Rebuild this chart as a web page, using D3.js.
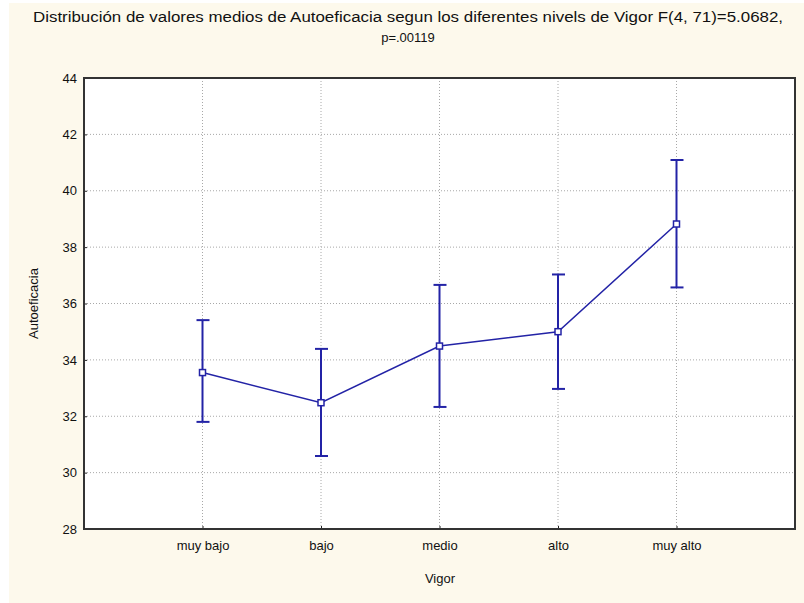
<!DOCTYPE html>
<html>
<head>
<meta charset="utf-8">
<script src="https://cdn.jsdelivr.net/npm/d3@7"></script>
<style>
  body { margin: 0; background: #ffffff; }
  text { font-family: "Liberation Sans", Arial, sans-serif; fill: #111; }
</style>
</head>
<body>
<div id="chart"></div>
<script>
// values
const categories = ["muy bajo", "bajo", "medio", "alto", "muy alto"];
const means = [33.55, 32.48, 34.49, 35.0, 38.82];
const upper = [35.41, 34.39, 36.66, 37.03, 41.09];
const lower = [31.8, 30.59, 32.33, 32.97, 36.57];
const yTicks = [28, 30, 32, 34, 36, 38, 40, 42, 44];

const titleLine1 = "Distribución de valores medios de  Autoeficacia segun los diferentes nivels de Vigor F(4, 71)=5.0682,";
const titleLine2 = "p=.00119";
const xLabel = "Vigor";
const yLabel = "Autoeficacia";

const pageWidth = 804;
const pageHeight = 603;
const plot = { left: 84, top: 78, right: 795, bottom: 529 };
const blue = "#2323a6";

const svg = d3.select("#chart")
    .append("svg")
    .attr("width", pageWidth)
    .attr("height", pageHeight);

// cream background of the graph window
svg.append("rect")
    .attr("x", 9).attr("y", 3)
    .attr("width", pageWidth - 9).attr("height", pageHeight - 3)
    .attr("fill", "#fdf9ec");

svg.append("rect")
    .attr("x", plot.left).attr("y", plot.top)
    .attr("width", plot.right - plot.left).attr("height", plot.bottom - plot.top)
    .attr("fill", "#ffffff");

var x = d3.scalePoint()
    .domain(categories)
    .range([plot.left, plot.right])
    .padding(1);

var y = d3.scaleLinear()
    .domain([28, 44])
    .range([plot.bottom, plot.top]);

// dotted grid
svg.append("g").selectAll("line")
    .data(yTicks.filter(d => d > 28 && d < 44))
    .enter().append("line")
    .attr("x1", plot.left).attr("x2", plot.right)
    .attr("y1", d => y(d)).attr("y2", d => y(d))
    .attr("stroke", "#a8a8a8")
    .attr("stroke-dasharray", "1,2");

svg.append("g").selectAll("line")
    .data(categories)
    .enter().append("line")
    .attr("x1", d => x(d)).attr("x2", d => x(d))
    .attr("y1", plot.top).attr("y2", plot.bottom)
    .attr("stroke", "#a8a8a8")
    .attr("stroke-dasharray", "1,2");

// axes with small inward ticks
var yAxis = svg.append("g")
    .attr("transform", "translate(" + plot.left + ",0)")
    .call(d3.axisLeft(y).tickValues(yTicks).tickSize(-3).tickPadding(7).tickSizeOuter(0));

var xAxis = svg.append("g")
    .attr("transform", "translate(0," + plot.bottom + ")")
    .call(d3.axisBottom(x).tickSize(-3).tickPadding(12).tickSizeOuter(0));

[xAxis, yAxis].forEach(g => {
    g.select(".domain").remove();
    g.selectAll(".tick line").attr("stroke", "#222");
    g.selectAll(".tick text")
        .attr("font-size", 13)
        .attr("font-family", "Liberation Sans, Arial, sans-serif")
        .attr("fill", "#111");
});

// frame
svg.append("rect")
    .attr("x", plot.left).attr("y", plot.top)
    .attr("width", plot.right - plot.left).attr("height", plot.bottom - plot.top)
    .attr("fill", "none")
    .attr("stroke", "#333")
    .attr("stroke-width", 2);

// error bars
var bars = svg.append("g").selectAll("g")
    .data(categories)
    .enter().append("g");

bars.append("line")
    .attr("x1", d => x(d)).attr("x2", d => x(d))
    .attr("y1", (d, i) => y(upper[i])).attr("y2", (d, i) => y(lower[i]))
    .attr("stroke", blue).attr("stroke-width", 2);

bars.append("line")
    .attr("x1", d => x(d) - 6).attr("x2", d => x(d) + 7)
    .attr("y1", (d, i) => y(upper[i])).attr("y2", (d, i) => y(upper[i]))
    .attr("stroke", blue).attr("stroke-width", 2);

bars.append("line")
    .attr("x1", d => x(d) - 6).attr("x2", d => x(d) + 7)
    .attr("y1", (d, i) => y(lower[i])).attr("y2", (d, i) => y(lower[i]))
    .attr("stroke", blue).attr("stroke-width", 2);

// line through the means
var line = d3.line()
    .x((d, i) => x(categories[i]))
    .y(d => y(d));

svg.append("path")
    .datum(means)
    .attr("d", line)
    .attr("fill", "none")
    .attr("stroke", blue)
    .attr("stroke-width", 1.5);

svg.append("g").selectAll("rect")
    .data(means)
    .enter().append("rect")
    .attr("x", (d, i) => x(categories[i]) - 3)
    .attr("y", d => y(d) - 3)
    .attr("width", 6).attr("height", 6)
    .attr("fill", "#fff")
    .attr("stroke", blue)
    .attr("stroke-width", 1.5);

// titles
svg.append("text")
    .attr("x", 408).attr("y", 22)
    .attr("text-anchor", "middle")
    .attr("font-size", 14)
    .attr("textLength", 750)
    .attr("lengthAdjust", "spacingAndGlyphs")
    .text(titleLine1);

svg.append("text")
    .attr("x", 408).attr("y", 42)
    .attr("text-anchor", "middle")
    .attr("font-size", 13)
    .text(titleLine2);

svg.append("text")
    .attr("x", 440).attr("y", 583)
    .attr("text-anchor", "middle")
    .attr("font-size", 13)
    .text(xLabel);

svg.append("text")
    .attr("transform", "translate(38," + ((plot.top + plot.bottom) / 2) + ") rotate(-90)")
    .attr("text-anchor", "middle")
    .attr("font-size", 13)
    .text(yLabel);
</script>
</body>
</html>
